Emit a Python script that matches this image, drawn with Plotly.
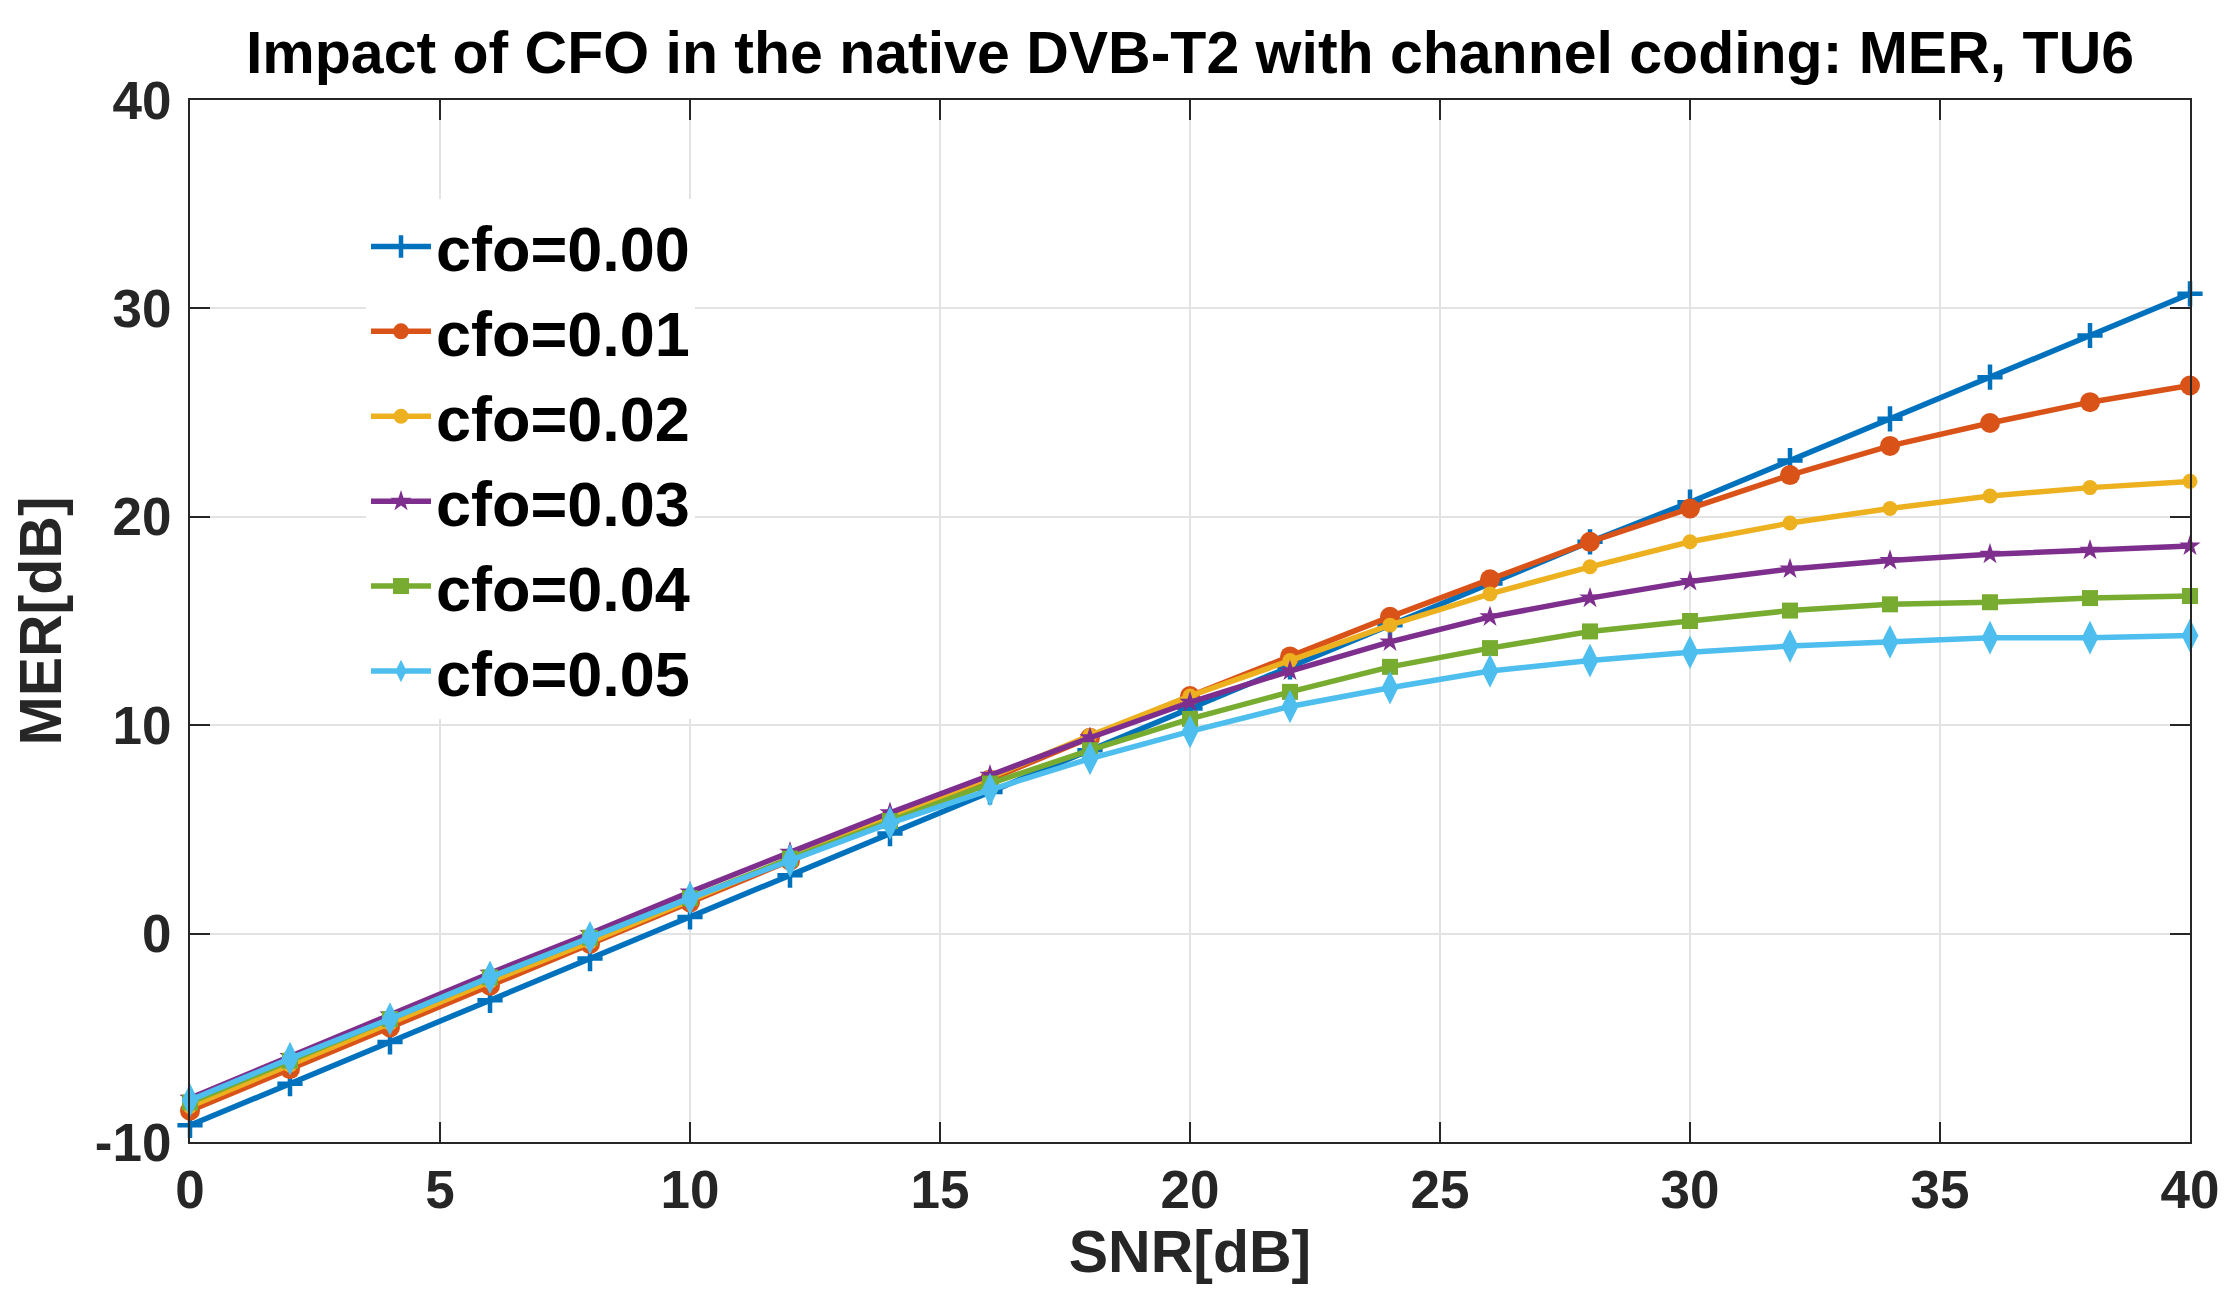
import plotly.graph_objects as go

snr = [0, 2, 4, 6, 8, 10, 12, 14, 16, 18, 20, 22, 24, 26, 28, 30, 32, 34, 36, 38, 40]

cfo_000 = [-9.2, -7.2, -5.2, -3.2, -1.2, 0.8, 2.8, 4.8, 6.8, 8.8, 10.8, 12.8, 14.8, 16.8, 18.8, 20.7, 22.7, 24.7, 26.7, 28.7, 30.7]
cfo_001 = [-8.5, -6.5, -4.5, -2.5, -0.5, 1.5, 3.5, 5.5, 7.4, 9.4, 11.4, 13.3, 15.2, 17.0, 18.8, 20.4, 22.0, 23.4, 24.5, 25.5, 26.3]
cfo_002 = [-8.3, -6.3, -4.3, -2.3, -0.4, 1.6, 3.6, 5.6, 7.5, 9.5, 11.4, 13.1, 14.8, 16.3, 17.6, 18.8, 19.7, 20.4, 21.0, 21.4, 21.7]
cfo_003 = [-7.9, -5.9, -3.9, -1.9, 0.0, 2.0, 3.9, 5.8, 7.6, 9.4, 11.1, 12.6, 14.0, 15.2, 16.1, 16.9, 17.5, 17.9, 18.2, 18.4, 18.6]
cfo_004 = [-8.1, -6.1, -4.1, -2.1, -0.2, 1.7, 3.6, 5.4, 7.2, 8.8, 10.3, 11.6, 12.8, 13.7, 14.5, 15.0, 15.5, 15.8, 15.9, 16.1, 16.2]
cfo_005 = [-8.0, -6.0, -4.1, -2.1, -0.2, 1.7, 3.5, 5.3, 6.9, 8.4, 9.7, 10.9, 11.8, 12.6, 13.1, 13.5, 13.8, 14.0, 14.2, 14.2, 14.3]

series_names = ["cfo=0.00", "cfo=0.01", "cfo=0.02", "cfo=0.03", "cfo=0.04", "cfo=0.05"]
series_values = [cfo_000, cfo_001, cfo_002, cfo_003, cfo_004, cfo_005]

x_ticks = [0, 5, 10, 15, 20, 25, 30, 35, 40]
y_ticks = [-10, 0, 10, 20, 30, 40]
y_tick_labels = ["-10", "0", "10", "20", "30", "40"]

colors = ["#0072BD", "#D95319", "#EDB120", "#7E2F8E", "#77AC30", "#4DBEEE"]
symbols = ["cross-thin", "circle", "circle", "star", "square", "diamond-tall"]
sizes = [18, 20, 15, 16, 16, 24]

fig = go.Figure()
for name, vals, col, sym, sz in zip(series_names, series_values, colors, symbols, sizes):
    fig.add_trace(go.Scatter(
        x=snr, y=vals, name=name, mode="lines+markers",
        line=dict(color=col, width=5.5),
        marker=dict(symbol=sym, size=sz, color=col,
                    line=dict(color=col, width=4.5 if sym == "cross-thin" else 0)),
        cliponaxis=False,
    ))

axis_common = dict(
    showgrid=True, gridcolor="#e3e3e3", gridwidth=1.5,
    showline=True, linecolor="#262626", linewidth=2, mirror="ticks",
    ticks="inside", ticklen=20, tickwidth=2, tickcolor="#262626",
    zeroline=False,
    tickfont=dict(family="Liberation Sans", size=53, color="#262626", weight="bold"),
)

fig.update_layout(
    width=2239, height=1314,
    paper_bgcolor="white", plot_bgcolor="white",
    margin=dict(l=182, r=57, t=92, b=180),
    title=dict(
        text="Impact of CFO in the native DVB-T2 with channel coding: MER, TU6",
        x=0.5 * (182 + 2182) / 2239, xanchor="center",
        y=1 - 44 / 1314, yanchor="middle", yref="container",
        font=dict(family="Liberation Sans", size=59, color="black", weight="bold"),
    ),
    xaxis=dict(range=[0, 40], tickvals=x_ticks,
               title=dict(text="SNR[dB]", standoff=12,
                          font=dict(family="Liberation Sans", size=59, color="#262626", weight="bold")),
               **axis_common),
    yaxis=dict(range=[-10, 40], tickvals=y_ticks, ticktext=y_tick_labels, ticklabelstandoff=6,
               title=dict(text="MER[dB]", standoff=18,
                          font=dict(family="Liberation Sans", size=59, color="#262626", weight="bold")),
               **axis_common),
    legend=dict(
        x=0.088, xanchor="left", y=0.905, yanchor="top",
        bgcolor="white", borderwidth=0,
        font=dict(family="Liberation Sans", size=63, color="black", weight="bold"),
        itemwidth=60,
    ),
    showlegend=True,
)

fig.write_html("out.html")
